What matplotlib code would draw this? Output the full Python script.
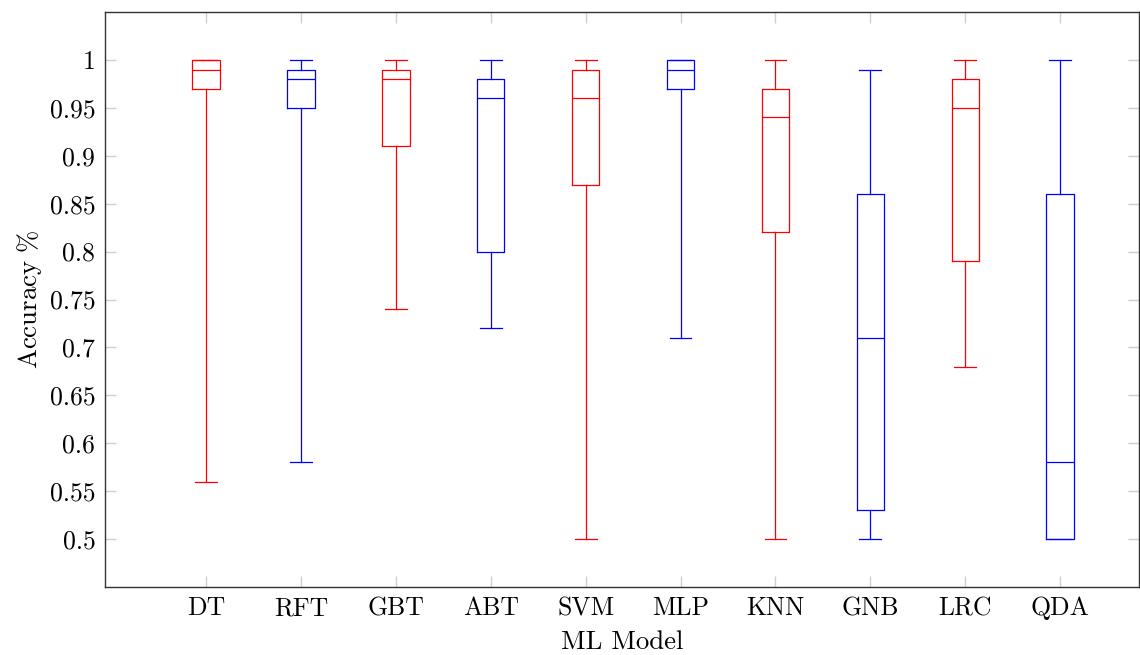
import matplotlib
matplotlib.use("Agg")
import matplotlib.pyplot as plt

plt.rcParams['font.family'] = ['cmr10', 'DejaVu Serif']
plt.rcParams['mathtext.fontset'] = 'cm'
plt.rcParams['axes.unicode_minus'] = False

models = ["DT", "RFT", "GBT", "ABT", "SVM", "MLP", "KNN", "GNB", "LRC", "QDA"]
whislo = [0.56, 0.58, 0.74, 0.72, 0.50, 0.71, 0.50, 0.50, 0.68, 0.50]
q1 = [0.97, 0.95, 0.91, 0.80, 0.87, 0.97, 0.82, 0.53, 0.79, 0.50]
med = [0.99, 0.98, 0.98, 0.96, 0.96, 0.99, 0.94, 0.71, 0.95, 0.58]
q3 = [1.00, 0.99, 0.99, 0.98, 0.99, 1.00, 0.97, 0.86, 0.98, 0.86]
whishi = [1.00, 1.00, 1.00, 1.00, 1.00, 1.00, 1.00, 0.99, 1.00, 1.00]
colors = ["red", "blue"] * 5

yticks = [0.5, 0.55, 0.6, 0.65, 0.7, 0.75, 0.8, 0.85, 0.9, 0.95, 1.0]
ytick_labels = ["0.5", "0.55", "0.6", "0.65", "0.7", "0.75", "0.8", "0.85", "0.9", "0.95", "1"]

fig = plt.figure(figsize=(11.4, 6.55), dpi=100)
ax = fig.add_axes([105 / 1140, 1 - 587 / 655, 1034 / 1140, 575 / 655])

for i in range(len(models)):
    stats = [dict(med=med[i], q1=q1[i], q3=q3[i], whislo=whislo[i],
                  whishi=whishi[i], fliers=[], label=models[i])]
    lp = dict(color=colors[i], linewidth=0.9)
    ax.bxp(stats, positions=[i + 1], widths=0.29, capwidths=0.23,
           showfliers=False, boxprops=lp, whiskerprops=lp,
           capprops=lp, medianprops=lp)

ax.set_xlim(-0.064, 10.83)
ax.set_ylim(0.45, 1.05)
ax.set_xticks(range(1, len(models) + 1))
ax.set_xticklabels(models)
ax.set_yticks(yticks)
ax.set_yticklabels(ytick_labels)

ax.tick_params(direction='in', length=8, width=1, color='#cfcfcf',
               top=True, right=True, labelsize=18.5, pad=7)
for s in ax.spines.values():
    s.set_color('#333333')
    s.set_linewidth(1.0)

ax.set_xlabel("ML Model", fontsize=19.3, labelpad=7)
ax.set_ylabel(r"$\mathrm{Accuracy\ \%}$", fontsize=19.3, labelpad=4)

fig.savefig("out.png", dpi=100)
